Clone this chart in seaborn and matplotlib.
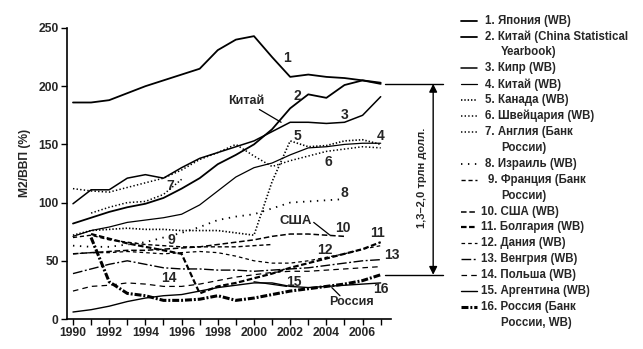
import numpy as np
import matplotlib
matplotlib.use("Agg")
import matplotlib.pyplot as plt
from matplotlib import font_manager
from matplotlib.lines import Line2D
import seaborn as sns

nan = np.nan
years = list(range(1990, 2008))

japan       = [186, 186, 188, 194, 200, 205, 210, 215, 231, 240, 243, 225, 208, 210, 208, 207, 205, 202]
china_csy   = [82, 87, 92, 96, 99, 104, 112, 121, 133, 141, 150, 163, 181, 193, 190, 201, 205, 203]
cyprus      = [99, 111, 111, 121, 124, 121, 130, 138, 143, 148, 153, 161, 169, 169, 168, 169, 175, 191]
china_wb    = [71, 76, 79, 83, 85, 87, 90, 98, 110, 122, 130, 134, 141, 147, 148, 150, 151, 151]
canada      = [72, 76, 77, 78, 77, 77, 76, 76, 76, 74, 72, 118, 153, 148, 149, 153, 154, 150]
switzerland = [112, 110, 109, 113, 117, 121, 128, 137, 143, 150, 140, 131, 136, 140, 144, 146, 148, 147]
england     = [nan, 91, 96, 100, 101, 107, 120, nan, nan, nan, nan, nan, nan, nan, nan, nan, nan, nan]
israel      = [63, 62, 62, 64, 66, 70, 74, 79, 85, 88, 90, 95, 100, 101, 102, 103, nan, nan]
france      = [70, 72, 68, 66, 64, 63, 62, 62, 62, 62, 63, 64, nan, nan, nan, nan, nan, nan]
usa         = [56, 57, 58, 59, 59, 60, 61, 62, 64, 66, 68, 71, 73, 73, 72, 71, nan, nan]
bulgaria    = [nan, 73, 69, 65, 62, 59, 56, 22, 28, 31, 35, 39, 44, 48, 52, 56, 60, 66]
denmark     = [56, 57, 57, 58, 57, 56, 57, 58, 57, 54, 50, 48, 48, 50, 53, 56, 60, 63]
hungary     = [39, 43, 47, 50, 47, 44, 43, 43, 42, 42, 41, 42, 43, 44, 46, 48, 50, 51]
poland      = [24, 28, 29, 31, 30, 28, 28, 30, 33, 36, 38, 40, 41, 41, 42, 43, 44, 45]
argentina   = [6, 8, 11, 15, 18, 20, 21, 24, 27, 29, 31, 31, 28, 27, 28, 29, 30, 31]
russia      = [nan, 70, 32, 22, 20, 16, 16, 17, 20, 16, 18, 21, 24, 26, 28, 30, 33, 38]

series = [japan, china_csy, cyprus, china_wb, canada, switzerland, england, israel,
          france, usa, bulgaria, denmark, hungary, poland, argentina, russia]

legend_lines = [
    ["1. Япония (WB)"],
    ["2. Китай (China Statistical", "Yearbook)"],
    ["3. Кипр (WB)"],
    ["4. Китай (WB)"],
    ["5. Канада (WB)"],
    ["6. Швейцария (WB)"],
    ["7. Англия (Банк", "России)"],
    ["8. Израиль (WB)"],
    ["9. Франция (Банк", "России)"],
    ["10. США (WB)"],
    ["11. Болгария (WB)"],
    ["12. Дания (WB)"],
    ["13. Венгрия (WB)"],
    ["14. Польша (WB)"],
    ["15. Аргентина (WB)"],
    ["16. Россия (Банк", "России, WB)"],
]

# line style and width for each series, dash lengths in points
styles = [
    ("-", 1.3),
    ("-", 1.3),
    ("-", 1.1),
    ("-", 0.9),
    ((0, (1.0, 1.4)), 1.2),
    ((0, (1.0, 1.6)), 1.1),
    ((0, (1.0, 1.6)), 1.1),
    ((0, (1.0, 4.0)), 1.3),
    ((0, (3.0, 2.0)), 1.0),
    ((0, (4.0, 2.0)), 1.1),
    ((0, (4.0, 1.8)), 1.6),
    ((0, (2.6, 2.2)), 0.9),
    ((0, (7.0, 1.8, 1.4, 1.8)), 1.0),
    ((0, (4.0, 3.0)), 0.9),
    ("-", 1.0),
    ((0, (5.0, 1.4, 1.4, 1.4)), 2.2),
]

sns.set_theme(style="white")
names = {f.name for f in font_manager.fontManager.ttflist}
family = "Liberation Sans Narrow" if "Liberation Sans Narrow" in names else "Liberation Sans"
plt.rcParams["font.family"] = [family, "DejaVu Sans"]
plt.rcParams["font.weight"] = "bold"
plt.rcParams["lines.scale_dashes"] = False

W, H = 643, 349
fig = plt.figure(figsize=(W / 100, H / 100), dpi=100)
ax = fig.add_axes([67 / W, 1 - 319 / H, (391 - 67) / W, (319 - 28) / H])

for vals, (ls, lw) in zip(series, styles):
    sns.lineplot(x=years, y=vals, ax=ax, color="black", linestyle=ls, linewidth=lw,
                 estimator=None, sort=False)

ax.set_xlim(1989.67, 2007.57)
ax.set_ylim(0, 250)
ax.set_xticks(range(1990, 2007, 2))
ax.set_xticks(range(1991, 2008, 2), minor=True)
ax.set_yticks(range(0, 251, 50))
for s in ["top", "right"]:
    ax.spines[s].set_visible(False)
for s in ["left", "bottom"]:
    ax.spines[s].set_color("black")
    ax.spines[s].set_linewidth(1.2)
ax.tick_params(axis="both", which="both", direction="out", length=4, width=1.0,
               color="black", labelsize=8.7, pad=2, bottom=True, left=True)
for lab in ax.get_xticklabels() + ax.get_yticklabels():
    lab.set_fontweight("bold")
ax.set_xlabel("")
ax.set_ylabel("")
fig.text(25 / W, 1 - 163 / H, "M2/ВВП (%)", rotation=90, ha="center", va="center",
         fontsize=8.7, fontweight="bold")

# series number labels
num_pos = {
    "1": (2001.8, 224), "2": (2002.4, 192), "3": (2005.0, 175), "4": (2007.0, 157),
    "5": (2002.4, 157), "6": (2004.1, 135), "7": (1995.4, 114), "8": (2005.0, 108),
    "9": (1995.45, 68), "10": (2004.9, 78), "11": (2006.8, 74), "12": (2003.9, 59),
    "13": (2007.6, 55), "14": (1995.3, 35), "15": (2002.2, 32), "16": (2007.0, 26),
}
for t, (x, y) in num_pos.items():
    ax.text(x, y, t, ha="center", va="center", fontsize=10, fontweight="bold",
            clip_on=False)

ax.text(1999.6, 187, "Китай", ha="center", va="center", fontsize=9, fontweight="bold")
ax.plot([2000.3, 2001.5], [180, 169], color="black", lw=0.9)
ax.text(2002.3, 84, "США", ha="center", va="center", fontsize=9.5, fontweight="bold")
ax.plot([2003.3, 2004.2], [83, 72], color="black", lw=0.9)
ax.text(2005.4, 15, "Россия", ha="center", va="center", fontsize=9, fontweight="bold")
ax.plot([2004.3, 2004.75], [27, 20], color="black", lw=0.9)
ax.plot([2000.0, 2001.8], [32, 28], color="black", lw=0.9)

# bracket showing the gap between the top and bottom series
ax.plot([2007.25, 2010.45], [202, 202], color="black", lw=1.0, clip_on=False)
ax.plot([2007.25, 2010.45], [38, 38], color="black", lw=1.0, clip_on=False)
ax.annotate("", xy=(2009.9, 202), xytext=(2009.9, 38), annotation_clip=False,
            arrowprops=dict(arrowstyle="<|-|>", color="black", lw=1.0,
                            mutation_scale=12, shrinkA=0, shrinkB=0))
ax.text(2009.27, 121, "1,3–2,0 трлн долл.", rotation=90, ha="center", va="center",
        fontsize=8, fontweight="bold", clip_on=False)

# legend drawn as a column of samples and captions
row = 15.9
y0 = 20.7
k = 0
for i, (lines, (ls, lw)) in enumerate(zip(legend_lines, styles)):
    py = y0 + k * row
    fy = 1 - py / H
    fig.add_artist(Line2D([461 / W, 477 / W], [fy, fy], transform=fig.transFigure,
                          color="black", linestyle=ls, linewidth=lw))
    x0 = 481 if i >= 9 else (488 if i == 8 else 485)
    fig.text(x0 / W, fy, lines[0], ha="left", va="center", fontsize=8.3,
             fontweight="bold")
    k += 1
    for extra in lines[1:]:
        py = y0 + k * row
        fig.text(501 / W, 1 - py / H, extra, ha="left", va="center", fontsize=8.3,
                 fontweight="bold")
        k += 1

fig.savefig("out.png", dpi=100, facecolor="white")
